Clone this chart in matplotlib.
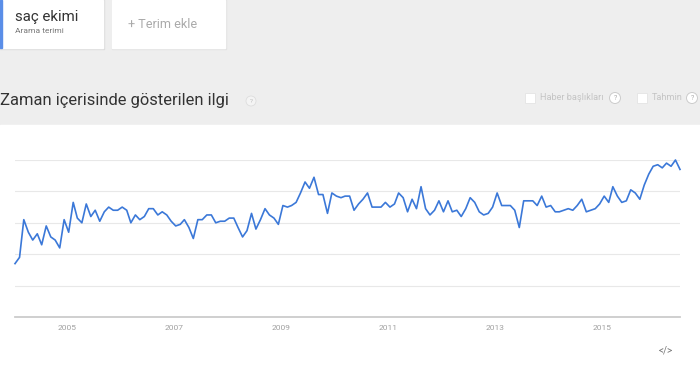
import numpy as np
import pandas as pd
import matplotlib
matplotlib.use("Agg")
import matplotlib.pyplot as plt
from matplotlib.patches import Rectangle, Circle
from matplotlib.transforms import ScaledTranslation

plt.rcParams['font.family'] = ['Roboto', 'DejaVu Sans']

# monthly interest, Jan 2004 - Jun 2016
interest = [
    34, 38, 62, 54, 49, 53, 46, 58, 51, 49, 44, 62,
    54, 73, 63, 60, 72, 64, 68, 61, 67, 70, 68, 68,
    70, 68, 60, 65, 62, 64, 69, 69, 65, 67, 65, 61,
    58, 59, 62, 57, 50, 62, 62, 65, 65, 60, 61, 61,
    63, 63, 57, 51, 55, 66, 56, 62, 69, 65, 63, 59,
    71, 70, 71, 73, 79, 86, 82, 89, 78, 78, 66, 79,
    77, 76, 77, 77, 68, 72, 75, 79, 70, 70, 70, 73,
    70, 72, 79, 76, 67, 75, 69, 83, 69, 65, 68, 74,
    67, 74, 67, 68, 64, 69, 76, 73, 67, 65, 66, 70,
    79, 71, 71, 71, 68, 57, 74, 74, 74, 71, 77, 70,
    71, 67, 67, 68, 69, 68, 71, 75, 67, 68, 69, 72,
    77, 73, 83, 77, 73, 74, 81, 79, 75, 84, 91, 96,
    97, 95, 98, 96, 100, 94,
]
months = pd.date_range('2004-01-01', periods=len(interest), freq='MS')
tick_years = [2005, 2007, 2009, 2011, 2013, 2015]

W, H = 700, 371
fig = plt.figure(figsize=(W / 100, H / 100), dpi=100)

# page background drawn in pixel coordinates
bg = fig.add_axes([0, 0, 1, 1])
bg.set_xlim(0, W)
bg.set_ylim(H, 0)
bg.axis('off')
bg.add_patch(Rectangle((0, 0), W, 125, color='#eeeeee', zorder=0))
bg.add_patch(Rectangle((0, 125), W, H - 125, color='white', zorder=0))

# search term cards
bg.add_patch(Rectangle((0, 0), 104, 49, color='#dcdcdc', zorder=1))
bg.add_patch(Rectangle((0, 0), 103, 48, color='white', zorder=2))
bg.add_patch(Rectangle((0, 0), 1.6, 48, color='#5a8ee8', zorder=3))
bg.add_patch(Rectangle((112, 0), 114, 49, color='#e2e2e2', zorder=1))
bg.add_patch(Rectangle((112, 0), 113, 48, color='white', zorder=2))
bg.text(15, 17, 'saç ekimi', fontsize=10.8, color='#333333', va='center', zorder=4)
bg.text(15, 31, 'Arama terimi', fontsize=6, color='#777777', va='center', zorder=4)
bg.text(128, 25, '+ Terim ekle', fontsize=9.1, color='#aaaaaa', va='center', zorder=4)

# section title
bg.text(0, 100, 'Zaman içerisinde gösterilen ilgi', fontsize=11.85, color='#333333',
        va='center', zorder=4)
bg.add_patch(Circle((251, 101), 5, facecolor='#f4f4f4', edgecolor='#dddddd', lw=0.6, zorder=4))
bg.text(251, 101.5, '?', fontsize=4.5, color='#bbbbbb', ha='center', va='center', zorder=5)

# option checkboxes
for bx, label, cx in [(525, 'Haber başlıkları', 615), (637, 'Tahmin', 692)]:
    bg.add_patch(Rectangle((bx, 93), 10, 10, facecolor='white', edgecolor='#e4e4e4', lw=0.6, zorder=4))
    bg.text(bx + 15, 98, label, fontsize=6.6, color='#c4c4c4', va='center', zorder=4)
    bg.add_patch(Circle((cx, 98), 5.5, facecolor='white', edgecolor='#cccccc', lw=0.7, zorder=4))
    bg.text(cx, 98.5, '?', fontsize=5, color='#aaaaaa', ha='center', va='center', zorder=5)

bg.text(666, 350, '</>', fontsize=7, color='#777777', ha='center', va='center', zorder=4)

# the chart itself
ax = fig.add_axes([15 / W, (H - 317) / H, 665 / W, 157 / H])
ax.set_facecolor('none')
ax.plot(months, interest, color='#3b78d8', lw=1.2, clip_on=False, zorder=3)
ax.set_ylim(0, 100)
ax.set_xlim(months[0], months[0] + pd.DateOffset(months=149))
ax.set_yticks([20, 40, 60, 80, 100])
ax.yaxis.grid(True, color='#e8e8e8', lw=0.8)
ax.set_xticks([pd.Timestamp(f'{y}-01-01') for y in tick_years])
ax.set_xticklabels([str(y) for y in tick_years])
ax.tick_params(axis='x', length=0, labelsize=6, labelcolor='#a0a0a0', pad=6)
shift = ScaledTranslation(-2 / 100, 0, fig.dpi_scale_trans)
for lbl in ax.get_xticklabels():
    lbl.set_transform(lbl.get_transform() + shift)
ax.tick_params(axis='y', length=0, labelleft=False)
for side in ['top', 'left', 'right']:
    ax.spines[side].set_visible(False)
ax.spines['bottom'].set_color('#cccccc')
ax.spines['bottom'].set_linewidth(1.3)

fig.savefig('out.png', dpi=100)
